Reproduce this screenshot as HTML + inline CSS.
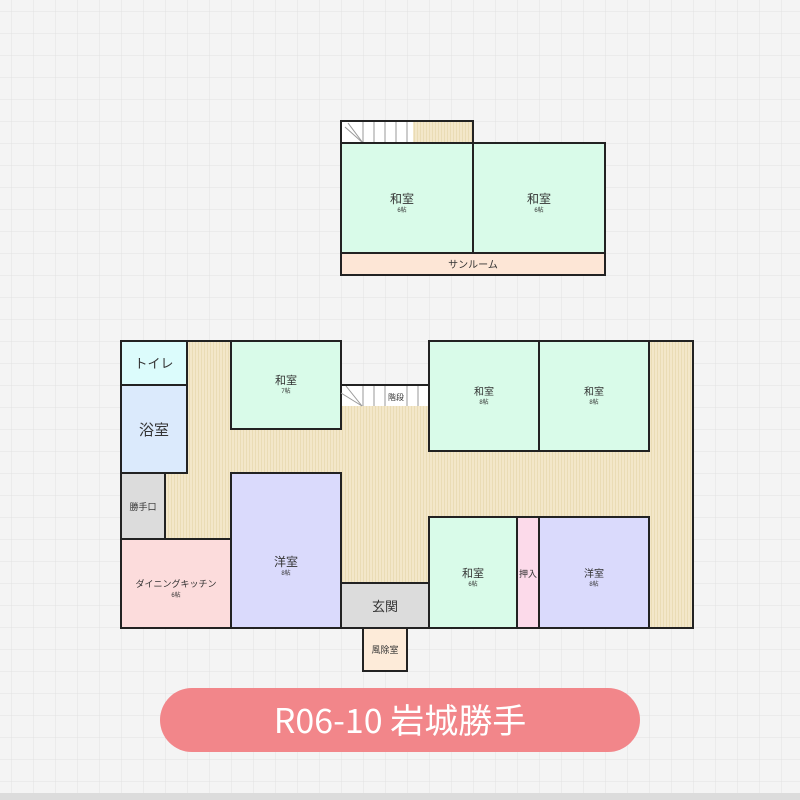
<!DOCTYPE html>
<html><head><meta charset="utf-8"><style>
html,body{margin:0;padding:0;background:#f4f4f4}
svg{display:block}
text{font-family:"Liberation Sans","Noto Sans CJK JP",sans-serif;fill:#333;text-anchor:middle}
</style></head><body>
<svg width="800" height="800" viewBox="0 0 800 800" xmlns="http://www.w3.org/2000/svg">
<defs>
<pattern id="g" width="22" height="22" patternUnits="userSpaceOnUse" x="11" y="11">
<path d="M0 0H22M0 0V22" stroke="#e2e2e2" stroke-width="1" fill="none"/>
</pattern>
<pattern id="w" width="3" height="10" patternUnits="userSpaceOnUse">
<rect width="3" height="10" fill="#f3e7c9"/><rect width="1" height="10" fill="#eadcb5"/>
</pattern>
</defs>
<rect width="800" height="800" fill="#f4f4f4"/>
<rect width="800" height="800" fill="url(#g)"/>
<rect y="793" width="800" height="7" fill="#dcdcdc"/>

<g stroke="#222" stroke-width="2">
<!-- upper floor -->
<rect x="341" y="121" width="132" height="22" fill="url(#w)"/>
<rect x="341" y="121" width="72" height="22" fill="#fff" stroke="none"/>
<g stroke="#999" stroke-width="1">
<line x1="363" y1="121" x2="363" y2="143"/><line x1="374" y1="121" x2="374" y2="143"/><line x1="385" y1="121" x2="385" y2="143"/><line x1="396" y1="121" x2="396" y2="143"/><line x1="407" y1="121" x2="407" y2="143"/>
<line x1="345" y1="127" x2="363" y2="143"/><line x1="348" y1="123" x2="363" y2="143"/>
</g>
<line x1="341" y1="121" x2="473" y2="121"/><line x1="341" y1="121" x2="341" y2="143"/><line x1="473" y1="121" x2="473" y2="143"/>
<line x1="341" y1="143" x2="430" y2="143"/>
<rect x="341" y="143" width="132" height="110" fill="#d9fbe9"/>
<rect x="473" y="143" width="132" height="110" fill="#d9fbe9"/>
<rect x="341" y="253" width="264" height="22" fill="#fde6d6"/>

<!-- main -->
<path d="M121 341H341V385H429V341H693V628H121Z" fill="url(#w)" stroke="none"/>
<rect x="121" y="341" width="66" height="44" fill="#dcfcfc"/>
<rect x="121" y="385" width="66" height="88" fill="#dbeafc"/>
<rect x="121" y="473" width="44" height="66" fill="#dcdcdc"/>
<rect x="121" y="539" width="110" height="89" fill="#fcdcdc"/>
<rect x="231" y="341" width="110" height="88" fill="#d9fbe9"/>
<rect x="231" y="473" width="110" height="155" fill="#dadafc"/>
<rect x="341" y="583" width="88" height="45" fill="#dcdcdc"/>
<rect x="363" y="628" width="44" height="43" fill="#fdebd9"/>
<rect x="342" y="386" width="86" height="20" fill="#fff" stroke="none"/>
<g stroke="#999" stroke-width="1">
<line x1="363" y1="386" x2="363" y2="406"/><line x1="374" y1="386" x2="374" y2="406"/><line x1="385" y1="386" x2="385" y2="406"/><line x1="407" y1="386" x2="407" y2="406"/><line x1="418" y1="386" x2="418" y2="406"/>
<line x1="341" y1="393" x2="362" y2="406"/><line x1="346" y1="386" x2="362" y2="406"/>
</g>
<rect x="429" y="341" width="110" height="110" fill="#d9fbe9"/>
<rect x="539" y="341" width="110" height="110" fill="#d9fbe9"/>
<rect x="429" y="517" width="88" height="111" fill="#d9fbe9"/>
<rect x="517" y="517" width="22" height="111" fill="#fcdaea"/>
<rect x="539" y="517" width="110" height="111" fill="#dadafc"/>
<path d="M121 341H341V385H429V341H693V628H121Z" fill="none"/>
</g>

<text x="402" y="203" font-size="12">和室</text><text x="402" y="212" font-size="6">6帖</text>
<text x="539" y="203" font-size="12">和室</text><text x="539" y="212" font-size="6">6帖</text>
<text x="473" y="268" font-size="10">サンルーム</text>
<text x="154" y="368" font-size="13">トイレ</text>
<text x="154" y="435" font-size="15">浴室</text>
<text x="143" y="510" font-size="9">勝手口</text>
<text x="176" y="587" font-size="9">ダイニングキッチン</text><text x="176" y="597" font-size="6">6帖</text>
<text x="286" y="384" font-size="11">和室</text><text x="286" y="393" font-size="6">7帖</text>
<text x="286" y="566" font-size="12">洋室</text><text x="286" y="575" font-size="6">8帖</text>
<text x="396" y="400" font-size="8">階段</text>
<text x="385" y="611" font-size="13">玄関</text>
<text x="385" y="653" font-size="9">風除室</text>
<text x="484" y="395" font-size="10">和室</text><text x="484" y="404" font-size="6">8帖</text>
<text x="594" y="395" font-size="10">和室</text><text x="594" y="404" font-size="6">8帖</text>
<text x="473" y="577" font-size="11">和室</text><text x="473" y="586" font-size="6">6帖</text>
<text x="528" y="577" font-size="9">押入</text>
<text x="594" y="577" font-size="10">洋室</text><text x="594" y="586" font-size="6">8帖</text>

<rect x="160" y="688" width="480" height="64" rx="32" fill="#f2868a"/>
<text x="400" y="733" font-size="34" style="fill:#fff;font-family:'Noto Sans CJK JP',sans-serif">R06-10 岩城勝手</text>
</svg>
</body></html>
